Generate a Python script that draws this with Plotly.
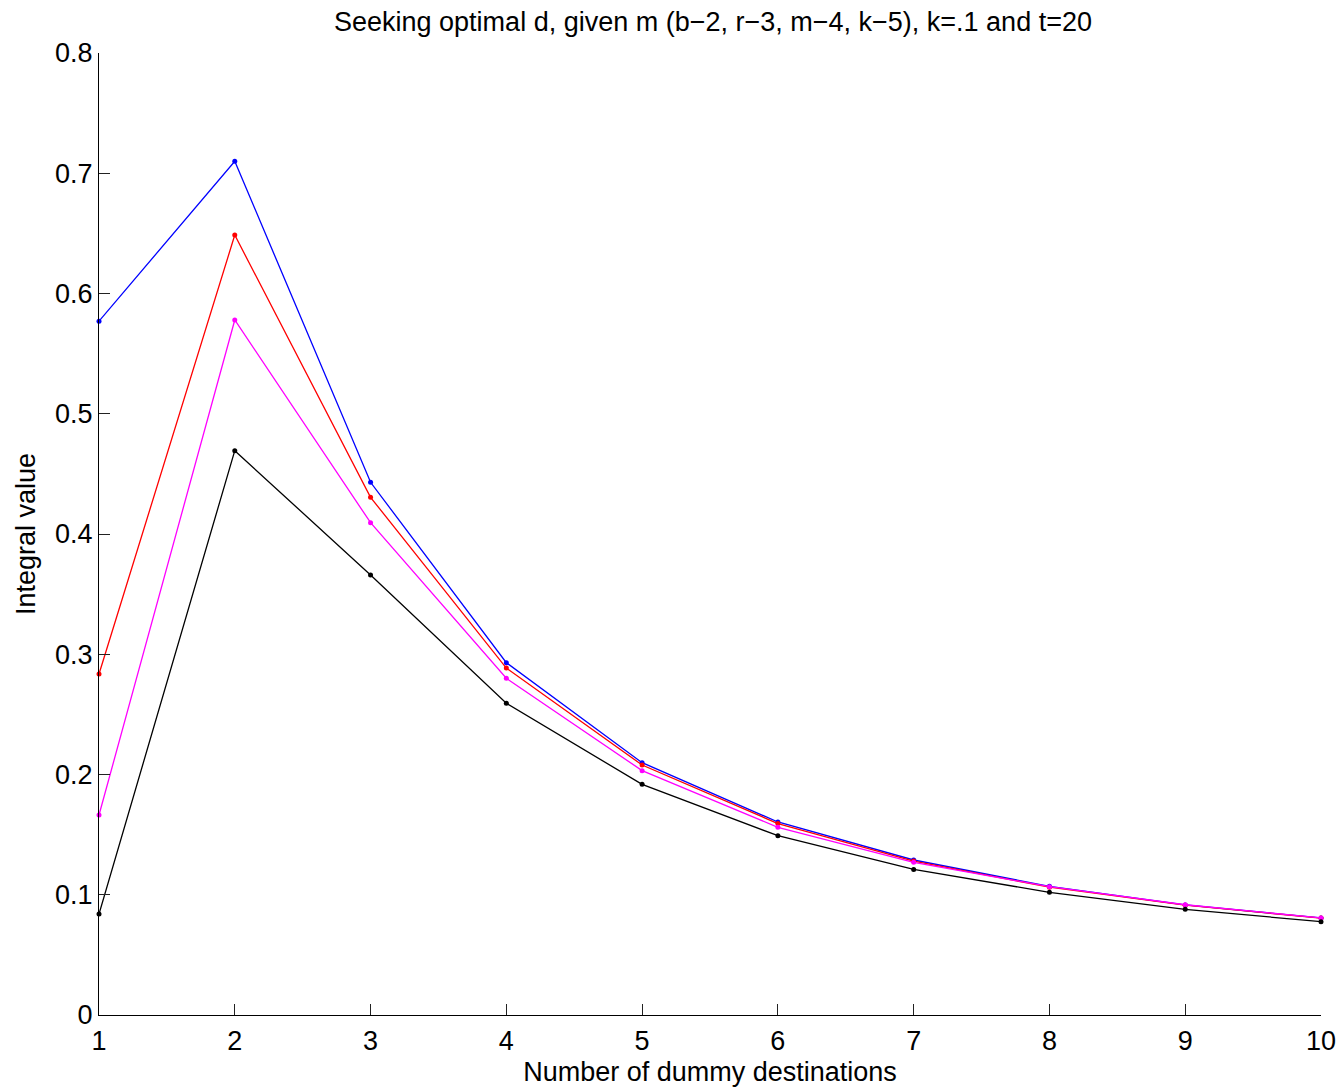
import plotly.graph_objects as go

# Number of dummy destinations
d_values = [1, 2, 3, 4, 5, 6, 7, 8, 9, 10]

# Integral value for each m (b-2, r-3, m-4, k-5)
m2_blue = [0.577, 0.710, 0.443, 0.293, 0.2098, 0.1605, 0.1289, 0.107, 0.0915, 0.0807]
m3_red = [0.2836, 0.6486, 0.4305, 0.2885, 0.2079, 0.1592, 0.128, 0.1063, 0.0913, 0.0806]
m4_magenta = [0.1663, 0.578, 0.4094, 0.280, 0.2032, 0.1561, 0.127, 0.1067, 0.0917, 0.0807]
m5_black = [0.084, 0.4693, 0.3659, 0.2592, 0.1918, 0.1491, 0.1211, 0.1020, 0.0879, 0.0776]

y_ticks = [0, 0.1, 0.2, 0.3, 0.4, 0.5, 0.6, 0.7, 0.8]
y_tick_text = ["0", "0.1", "0.2", "0.3", "0.4", "0.5", "0.6", "0.7", "0.8"]

series = [
    ("m=2", m2_blue, "#0000ff"),
    ("m=3", m3_red, "#ff0000"),
    ("m=4", m4_magenta, "#ff00ff"),
    ("m=5", m5_black, "#000000"),
]

FONT = "Liberation Sans, Arial, Helvetica, sans-serif"
FS = 27
ML, MR, MT, MB = 99, 21, 53, 76
W, H = 1342, 1091

fig = go.Figure()
for name, vals, color in series:
    fig.add_trace(go.Scatter(
        x=d_values, y=vals, name=name, mode="lines+markers",
        line=dict(color=color, width=1.3),
        marker=dict(color=color, size=5),
        cliponaxis=False,
    ))

fig.update_layout(
    width=W, height=H,
    margin=dict(l=ML, r=MR, t=MT, b=MB),
    paper_bgcolor="white", plot_bgcolor="white",
    showlegend=False,
    font=dict(family=FONT, color="black"),
    title=dict(
        text="Seeking optimal d, given m (b\u22122, r\u22123, m\u22124, k\u22125), k=.1 and t=20",
        x=713 / W, xanchor="center",
        y=1 - 22 / H, yanchor="middle",
        font=dict(size=FS, family=FONT),
    ),
    xaxis=dict(
        range=[1, 10], tickmode="array", tickvals=d_values,
        ticks="inside", ticklen=11, tickwidth=1, tickcolor="#222",
        showline=True, linecolor="black", linewidth=1,
        showgrid=False, zeroline=False, automargin=False,
        tickfont=dict(size=FS), ticklabelstandoff=2,
        title=dict(text="Number of dummy destinations", font=dict(size=FS), standoff=6),
    ),
    yaxis=dict(
        range=[0, 0.8], tickmode="array",
        tickvals=y_ticks, ticktext=y_tick_text,
        ticks="inside", ticklen=11, tickwidth=1, tickcolor="#222",
        showline=True, linecolor="black", linewidth=1,
        showgrid=False, zeroline=False, automargin=False,
        tickfont=dict(size=FS),
    ),
)

# Vertical y-axis label placed just left of the tick labels
fig.add_annotation(
    text="Integral value", textangle=-90, showarrow=False,
    xref="paper", yref="paper",
    x=-(ML - 26) / (W - ML - MR), y=0.5,
    xanchor="center", yanchor="middle",
    font=dict(size=FS, family=FONT),
)

fig.write_html("out.html")
